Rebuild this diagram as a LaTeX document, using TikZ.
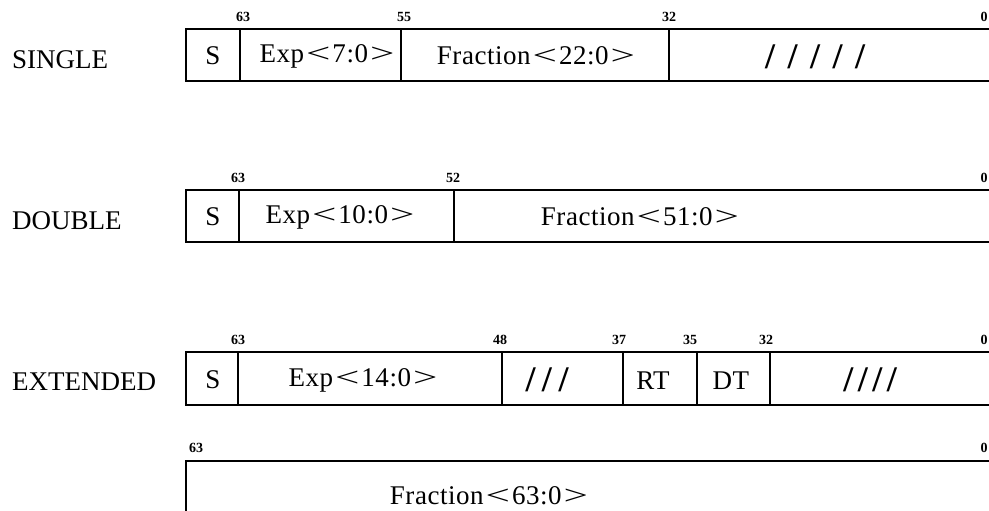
\documentclass[tikz,border=0pt]{standalone}
\usepackage{fontspec}
\usepackage{graphicx}
\setmainfont{Liberation Serif}
\newcommand\mylt{\hspace{2pt}\scalebox{1.6}[1]{<}\hspace{2pt}}
\newcommand\mygt{\hspace{2pt}\scalebox{1.6}[1]{>}}
\newcommand\myslash[1]{/\hspace{#1}}
\begin{document}
\begin{tikzpicture}[x=1pt,y=-1pt,
  frame/.style={line width=2.8pt},
  divider/.style={line width=2.2pt},
  rowname/.style={font=\fontsize{27}{27}\selectfont, inner sep=0pt, anchor=west},
  field/.style={font=\fontsize{27}{27}\selectfont\addfontfeature{LetterSpace=2}, inner sep=0pt},
  slashes/.style={font=\bfseries\fontsize{36}{36}\selectfont, inner sep=0pt},
  bitno/.style={font=\bfseries\fontsize{14}{14}\selectfont, inner sep=0pt}]
\useasboundingbox (0,0) rectangle (989,511);
% ---------- SINGLE ----------
\node[rowname] (single) at (12,60) {SINGLE};
\draw[frame] (1010,29) -- (186,29) -- (186,81) -- (1010,81);
\draw[divider] (240,29) -- (240,81);
\draw[divider] (401,29) -- (401,81);
\draw[divider] (669,29) -- (669,81);
\node[field] (s1) at (213,56) {S};
\node[field] (e1) at (327,56) {Exp\mylt 7:0\mygt};
\node[field] (f1) at (536,56) {Fraction\mylt 22:0\mygt};
\node[slashes] (x1) at (815,57) {\myslash{12.5pt}\myslash{12.5pt}\myslash{12.5pt}\myslash{12.5pt}/};
\node[bitno] (b1a) at (243,17) {63};
\node[bitno] (b1b) at (404,17) {55};
\node[bitno] (b1c) at (669,17) {32};
\node[bitno] (b1d) at (984,17) {0};
% ---------- DOUBLE ----------
\node[rowname] (double) at (12,221) {DOUBLE};
\draw[frame] (1010,190) -- (186,190) -- (186,242) -- (1010,242);
\draw[divider] (239,190) -- (239,242);
\draw[divider] (454,190) -- (454,242);
\node[field] (s2) at (213,217) {S};
\node[field] (e2) at (340,217) {Exp\mylt 10:0\mygt};
\node[field] (f2) at (640,217) {Fraction\mylt 51:0\mygt};
\node[bitno] (b2a) at (238,178) {63};
\node[bitno] (b2b) at (453,178) {52};
\node[bitno] (b2c) at (984,178) {0};
% ---------- EXTENDED ----------
\node[rowname] (extended) at (12,382) {EXTENDED};
\draw[frame] (1010,352) -- (186,352) -- (186,405) -- (1010,405);
\draw[divider] (238,352) -- (238,405);
\draw[divider] (502,352) -- (502,405);
\draw[divider] (623,352) -- (623,405);
\draw[divider] (697,352) -- (697,405);
\draw[divider] (770,352) -- (770,405);
\node[field] (s3) at (213,380) {S};
\node[field] (e3) at (363,380) {Exp\mylt 14:0\mygt};
\node[slashes] (x3a) at (547,380) {\myslash{6.5pt}\myslash{6.5pt}/};
\node[field] (rt) at (653,381) {RT};
\node[field] (dt) at (731,381) {DT};
\node[slashes] (x3b) at (870,380) {\myslash{4.5pt}\myslash{4.5pt}\myslash{4.5pt}/};
\node[bitno] (b3a) at (238,340) {63};
\node[bitno] (b3b) at (500,340) {48};
\node[bitno] (b3c) at (619,340) {37};
\node[bitno] (b3d) at (690,340) {35};
\node[bitno] (b3e) at (766,340) {32};
\node[bitno] (b3f) at (984,340) {0};
% ---------- second word ----------
\draw[frame] (1010,461) -- (186,461) -- (186,530);
\node[field] (f4) at (489,496) {Fraction\mylt 63:0\mygt};
\node[bitno] (b4a) at (196,448) {63};
\node[bitno] (b4b) at (984,448) {0};
\end{tikzpicture}
\end{document}
